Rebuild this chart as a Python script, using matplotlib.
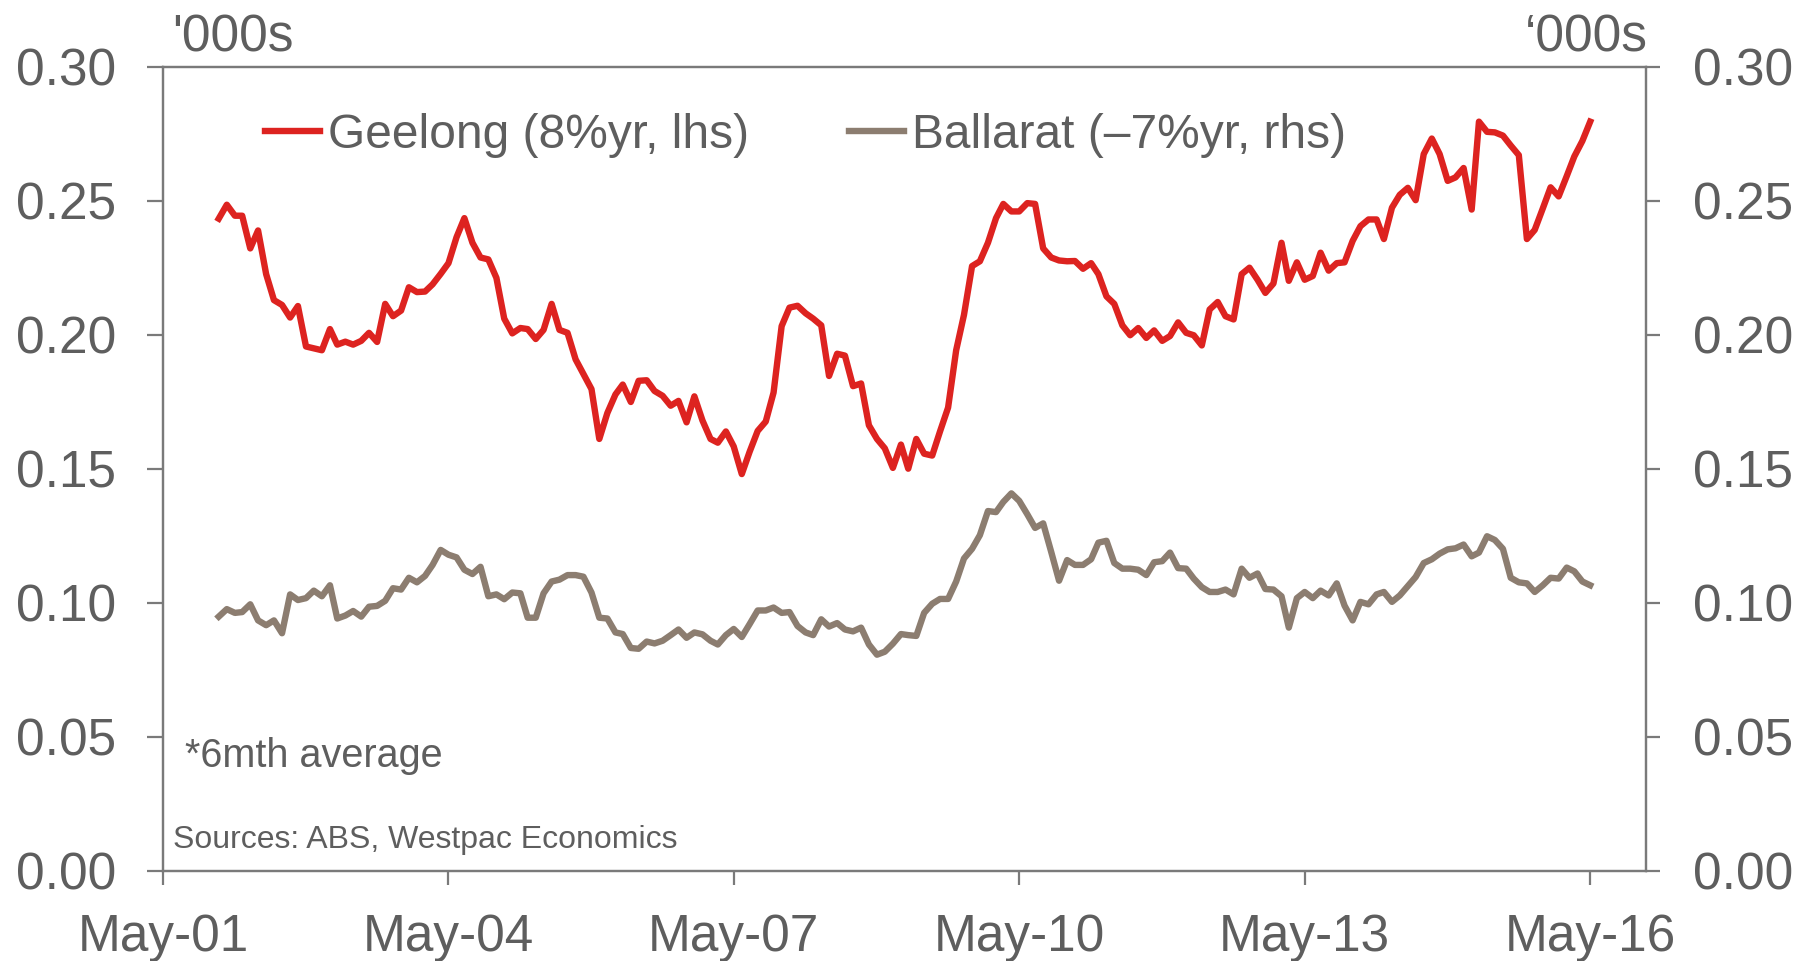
import pandas as pd
import matplotlib
matplotlib.use('Agg')
import matplotlib.pyplot as plt
import matplotlib.dates as mdates

plt.rcParams['font.family'] = ['Liberation Sans', 'DejaVu Sans']

# monthly, Dec-01 .. May-16, 6mth average ('000s)
dates = pd.date_range('2001-12-01', periods=174, freq='MS')

geelong = [0.2434, 0.2486, 0.2445, 0.2445, 0.2323, 0.2390, 0.2227, 0.2130, 0.2112, 0.2065,
           0.2108, 0.1957, 0.1950, 0.1943, 0.2022, 0.1964, 0.1975, 0.1964, 0.1978, 0.2008,
           0.1974, 0.2116, 0.2070, 0.2091, 0.2178, 0.2160, 0.2162, 0.2189, 0.2228, 0.2268,
           0.2365, 0.2436, 0.2344, 0.2289, 0.2282, 0.2213, 0.2061, 0.2006, 0.2026, 0.2022,
           0.1985, 0.2019, 0.2116, 0.2019, 0.2008, 0.1909, 0.1854, 0.1798, 0.1612, 0.1709,
           0.1778, 0.1815, 0.1750, 0.1829, 0.1831, 0.1791, 0.1773, 0.1736, 0.1754, 0.1674,
           0.1771, 0.1681, 0.1612, 0.1598, 0.1640, 0.1584, 0.1481, 0.1564, 0.1642, 0.1677,
           0.1785, 0.2033, 0.2102, 0.2109, 0.2081, 0.2061, 0.2036, 0.1847, 0.1930, 0.1923,
           0.1809, 0.1819, 0.1663, 0.1612, 0.1577, 0.1504, 0.1591, 0.1501, 0.1612, 0.1557,
           0.1550, 0.1640, 0.1729, 0.1943, 0.2075, 0.2257, 0.2275, 0.2344, 0.2436, 0.2489,
           0.2461, 0.2461, 0.2492, 0.2489, 0.2323, 0.2289, 0.2278, 0.2275, 0.2276, 0.2247,
           0.2268, 0.2227, 0.2144, 0.2116, 0.2036, 0.1999, 0.2026, 0.1989, 0.2017, 0.1978,
           0.1996, 0.2047, 0.2008, 0.1999, 0.1961, 0.2095, 0.2123, 0.2070, 0.2058, 0.2227,
           0.2251, 0.2206, 0.2157, 0.2192, 0.2344, 0.2202, 0.2271, 0.2206, 0.2220, 0.2307,
           0.2240, 0.2268, 0.2271, 0.2351, 0.2406, 0.2431, 0.2431, 0.2358, 0.2475, 0.2523,
           0.2549, 0.2503, 0.2675, 0.2733, 0.2675, 0.2575, 0.2588, 0.2623, 0.2468, 0.2796,
           0.2758, 0.2756, 0.2744, 0.2707, 0.2671, 0.2358, 0.2392, 0.2472, 0.2551, 0.2517,
           0.2593, 0.2666, 0.2724, 0.2796]

ballarat = [0.0949, 0.0977, 0.0963, 0.0966, 0.0995, 0.0935, 0.0917, 0.0935, 0.0887, 0.1032,
            0.1011, 0.1018, 0.1046, 0.1025, 0.1066, 0.0942, 0.0953, 0.0970, 0.0949, 0.0986,
            0.0989, 0.1008, 0.1055, 0.1050, 0.1094, 0.1077, 0.1101, 0.1142, 0.1198, 0.1180,
            0.1170, 0.1124, 0.1108, 0.1135, 0.1025, 0.1032, 0.1014, 0.1039, 0.1036, 0.0945,
            0.0945, 0.1036, 0.1080, 0.1087, 0.1104, 0.1104, 0.1098, 0.1039, 0.0945, 0.0942,
            0.0890, 0.0884, 0.0832, 0.0829, 0.0856, 0.0849, 0.0859, 0.0880, 0.0901, 0.0870,
            0.0890, 0.0883, 0.0859, 0.0845, 0.0880, 0.0903, 0.0873, 0.0921, 0.0972, 0.0972,
            0.0983, 0.0963, 0.0966, 0.0914, 0.0890, 0.0880, 0.0939, 0.0912, 0.0925, 0.0901,
            0.0894, 0.0908, 0.0845, 0.0807, 0.0818, 0.0848, 0.0884, 0.0880, 0.0877, 0.0963,
            0.0997, 0.1015, 0.1015, 0.1080, 0.1166, 0.1202, 0.1253, 0.1343, 0.1339, 0.1377,
            0.1409, 0.1381, 0.1331, 0.1280, 0.1297, 0.1190, 0.1083, 0.1160, 0.1142, 0.1142,
            0.1163, 0.1225, 0.1232, 0.1149, 0.1128, 0.1128, 0.1124, 0.1104, 0.1152, 0.1156,
            0.1188, 0.1130, 0.1128, 0.1091, 0.1059, 0.1041, 0.1041, 0.1050, 0.1032, 0.1128,
            0.1094, 0.1110, 0.1052, 0.1050, 0.1025, 0.0908, 0.1018, 0.1041, 0.1018, 0.1046,
            0.1028, 0.1073, 0.0990, 0.0935, 0.1004, 0.0995, 0.1032, 0.1041, 0.1004, 0.1028,
            0.1063, 0.1097, 0.1149, 0.1163, 0.1184, 0.1200, 0.1204, 0.1218, 0.1174, 0.1188,
            0.1249, 0.1235, 0.1202, 0.1094, 0.1077, 0.1073, 0.1041, 0.1066, 0.1094, 0.1091,
            0.1132, 0.1118, 0.1080, 0.1066]

yticks = [0.0, 0.05, 0.10, 0.15, 0.20, 0.25, 0.30]
xtick_dates = pd.to_datetime(['2001-05-01', '2004-05-01', '2007-05-01',
                              '2010-05-01', '2013-05-01', '2016-05-01'])

red = '#DD2320'
brown = '#8C7D70'
txt = '#5E5E5E'
axc = '#7A7A7A'

fig = plt.figure(figsize=(18.01, 9.61), dpi=100)
ax = fig.add_axes([0.0905, 0.0937, 0.8234, 0.8366])
ax2 = ax.twinx()

l1, = ax.plot(dates, geelong, color=red, lw=4.6, solid_joinstyle='round', label='Geelong (8%yr, lhs)')
l2, = ax2.plot(dates, ballarat, color=brown, lw=4.6, solid_joinstyle='round', label='Ballarat (\u20137%yr, rhs)')

for a in (ax, ax2):
    a.set_ylim(0, 0.30)
    a.set_yticks(yticks)
    a.set_yticklabels(['%.2f' % v for v in yticks])
    for s in a.spines.values():
        s.set_color(axc)
        s.set_linewidth(1.6)
ax.set_xlim(pd.Timestamp('2001-05-01'), pd.Timestamp('2016-12-01'))
ax.set_xticks(xtick_dates)
ax.xaxis.set_major_formatter(mdates.DateFormatter('%b-%y'))

ax.tick_params(axis='y', direction='out', length=11.5, width=1.6, color=axc,
               labelsize=37, labelcolor=txt, pad=22)
ax2.tick_params(axis='y', direction='out', length=10, width=1.6, color=axc,
                labelsize=37, labelcolor=txt, pad=24)
ax.tick_params(axis='x', direction='out', length=10, width=1.6, color=axc,
               labelsize=37, labelcolor=txt, pad=20)

ax.text(0.006, 1.005, "'000s", transform=ax.transAxes, fontsize=37, color=txt,
        ha='left', va='bottom')
ax.text(1.001, 1.005, '\u2018000s', transform=ax.transAxes, fontsize=37, color=txt,
        ha='right', va='bottom')

ax.legend(handles=[l1, l2], loc='center left', bbox_to_anchor=(0.069, 0.915),
          ncol=2, frameon=False, fontsize=34.5, labelcolor=txt, borderpad=0,
          borderaxespad=0, handlelength=1.15, handletextpad=0.15, columnspacing=2.1)

ax.text(0.015, 0.143, '*6mth average', transform=ax.transAxes, fontsize=28.5,
        color=txt, ha='left', va='center')
ax.text(0.007, 0.038, 'Sources: ABS, Westpac Economics', transform=ax.transAxes,
        fontsize=23, color=txt, ha='left', va='center')

fig.savefig('out.png', dpi=100)
